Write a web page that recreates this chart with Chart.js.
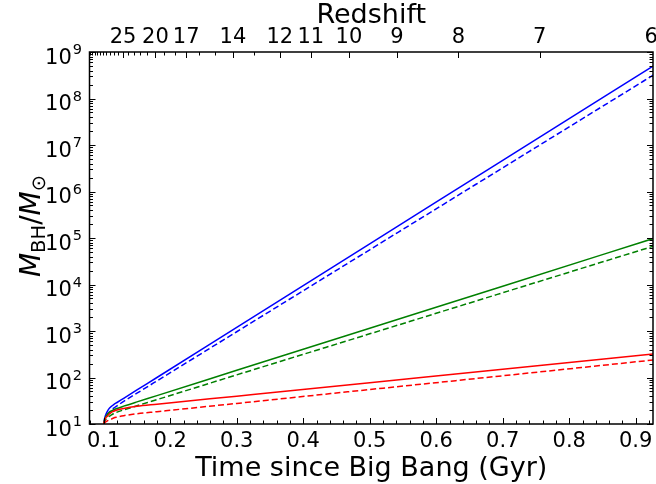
<!DOCTYPE html>
<html>
<head>
<meta charset="utf-8">
<script src="https://cdn.jsdelivr.net/npm/chart.js@4.4.1/dist/chart.umd.min.js"></script>
<style>
    html, body { margin: 0; padding: 0; background: #fff; }
    #wrap { width: 656px; height: 484px; }
</style>
</head>
<body>
<div id="wrap"><canvas id="bhChart" width="656" height="484"></canvas></div>
<script>
// time since Big Bang (Gyr), shared by every curve
const times = [0.100, 0.101, 0.1025, 0.105, 0.108, 0.111, 0.115, 0.120, 0.130, 0.150, 0.180, 0.30, 0.50, 0.70, 0.93];

// black hole mass (solar masses)
const blueSolid   = [10, 12.6, 15.1, 18.2, 21.4, 23.7, 26.2, 29.0, 35.7, 54.0, 100, 1200, 74800, 4.68e6, 5.42e8];
const blueDashed  = [10, 11.5, 13.2, 15.5, 17.8, 19.5, 21.9, 24.5, 30.7, 46.0, 84.5, 964, 55800, 3.23e6, 3.43e8];
const greenSolid  = [10, 12.0, 13.8, 15.8, 17.6, 18.8, 20.2, 21.6, 24.2, 29.9, 40.7, 143, 1150, 9200, 1.01e5];
const greenDashed = [10, 11.2, 12.3, 13.5, 14.6, 15.5, 16.8, 18.0, 20.1, 24.7, 33.4, 114, 869, 6650, 6.9e4];
const redSolid    = [10, 11.5, 13.2, 14.5, 16.2, 17.6, 18.8, 20.0, 21.6, 24.0, 26.6, 39.7, 77.4, 151, 325];
const redDashed   = [10, 10.5, 11.0, 11.6, 12.2, 12.6, 13.5, 14.1, 15.1, 16.6, 18.4, 27.7, 55.1, 109, 241];

// axis ticks
const xTicks = [0.1, 0.2, 0.3, 0.4, 0.5, 0.6, 0.7, 0.8, 0.9];
const yExponents = [1, 2, 3, 4, 5, 6, 7, 8, 9];
const redshiftLabels = [25, 20, 17, 14, 12, 11, 10, 9, 8, 7, 6];
const redshiftMinor = [7, 8, 9, 10, 11, 12, 13, 14, 15, 16, 17, 18, 19, 20, 21, 22, 23, 24, 25,
    26, 27, 28, 29, 30, 31, 32, 33, 34, 35];

const xMin = 0.0786;
const xMax = 0.926;
const FONT = 'DejaVu Sans';

// age of the universe at redshift z (Gyr), matched to the top axis of the figure
function zToTime(z) {
    return 17.1 * Math.pow(1 + z, -1.5);
}

function series(vals) {
    return vals.map(function (v, i) { return { x: times[i], y: v }; });
}

function line(vals, color, dashed) {
    return {
        data: series(vals),
        borderColor: color,
        borderWidth: 1.5,
        borderDash: dashed ? [6, 3] : [],
        pointRadius: 0,
        fill: false,
        cubicInterpolationMode: 'monotone'
    };
}

// frame, inward ticks, 10^n labels and the y title
const decorations = {
    id: 'decorations',
    afterDraw: function (chart) {
        const ctx = chart.ctx;
        const a = chart.chartArea;
        const xs = chart.scales.x;
        const ys = chart.scales.y;
        ctx.save();
        ctx.strokeStyle = '#000';
        ctx.lineWidth = 1;

        function vTick(v, len) {
            const px = Math.round(xs.getPixelForValue(v)) + 0.5;
            if (px < a.left || px > a.right) return;
            ctx.beginPath();
            ctx.moveTo(px, a.bottom);
            ctx.lineTo(px, a.bottom - len);
            ctx.stroke();
        }
        function topTick(v, len) {
            const px = Math.round(xs.getPixelForValue(v)) + 0.5;
            if (px < a.left || px > a.right) return;
            ctx.beginPath();
            ctx.moveTo(px, a.top);
            ctx.lineTo(px, a.top + len);
            ctx.stroke();
        }
        function hTick(v, len) {
            const py = Math.round(ys.getPixelForValue(v)) + 0.5;
            ctx.beginPath();
            ctx.moveTo(a.left, py);
            ctx.lineTo(a.left + len, py);
            ctx.moveTo(a.right, py);
            ctx.lineTo(a.right - len, py);
            ctx.stroke();
        }

        // bottom axis
        for (let i = 0; i <= 42; i++) {
            const v = 0.08 + i * 0.02;
            const major = xTicks.some(function (t) { return Math.abs(t - v) < 1e-6; });
            vTick(v, major ? 6 : 3.5);
        }
        // top (redshift) axis
        redshiftMinor.forEach(function (z) {
            const major = redshiftLabels.indexOf(z) >= 0;
            topTick(zToTime(z), major ? 6 : 3.5);
        });
        // y axis both sides
        yExponents.forEach(function (e) {
            hTick(Math.pow(10, e), 6);
            if (e < 9) {
                for (let m = 2; m <= 9; m++) hTick(m * Math.pow(10, e), 3.5);
            }
        });

        ctx.lineWidth = 1.5;
        ctx.strokeRect(a.left, a.top, a.right - a.left, a.bottom - a.top);

        // 10^n labels
        ctx.fillStyle = '#000';
        ctx.textBaseline = 'alphabetic';
        yExponents.forEach(function (e) {
            const py = ys.getPixelForValue(Math.pow(10, e));
            const rightEdge = 82;
            ctx.font = '14.5px "' + FONT + '"';
            const ew = ctx.measureText(String(e)).width;
            ctx.textAlign = 'right';
            ctx.fillText(String(e), rightEdge, py + 2);
            ctx.font = '21px "' + FONT + '"';
            ctx.fillText('10', rightEdge - ew - 1, py + 11.5);
        });

        // y title: M_BH / M_sun
        const parts = [
            { t: 'M', f: 'italic 28px "' + FONT + '"', dy: 0 },
            { t: 'BH', f: '19.5px "' + FONT + '"', dy: 5 },
            { t: '/', f: '28px "' + FONT + '"', dy: 0 },
            { t: 'M', f: 'italic 28px "' + FONT + '"', dy: 0 },
            { t: '\u2299', f: '19.5px "' + FONT + '"', dy: 5 }
        ];
        let total = 0;
        parts.forEach(function (p) {
            ctx.font = p.f;
            p.w = ctx.measureText(p.t).width;
            total += p.w;
        });
        ctx.translate(31, 226);
        ctx.rotate(-Math.PI / 2);
        ctx.textAlign = 'left';
        let cx = -total / 2;
        parts.forEach(function (p) {
            ctx.font = p.f;
            ctx.fillText(p.t, cx, 9 + p.dy);
            cx += p.w;
        });
        ctx.restore();
    }
};

new Chart(document.getElementById('bhChart').getContext('2d'), {
    type: 'line',
    data: {
        datasets: [
            line(redDashed, '#ff0000', true),
            line(redSolid, '#ff0000', false),
            line(greenDashed, '#008000', true),
            line(greenSolid, '#008000', false),
            line(blueDashed, '#0000ff', true),
            line(blueSolid, '#0000ff', false)
        ]
    },
    options: {
        responsive: false,
        animation: false,
        layout: { padding: { left: 0, right: 3, top: 0, bottom: 0 } },
        plugins: {
            legend: { display: false },
            tooltip: { enabled: false }
        },
        scales: {
            x: {
                type: 'linear',
                position: 'bottom',
                min: xMin,
                max: xMax,
                grid: { display: false, drawTicks: false },
                border: { display: false },
                afterBuildTicks: function (scale) {
                    scale.ticks = xTicks.map(function (v) { return { value: v }; });
                },
                afterFit: function (scale) {
                    scale.height = 60;
                    scale.paddingLeft = 0;
                    scale.paddingRight = 0;
                },
                ticks: {
                    autoSkip: false,
                    maxRotation: 0,
                    padding: 5,
                    color: '#000',
                    font: { family: FONT, size: 21 },
                    callback: function (value) { return value.toFixed(1); }
                },
                title: {
                    display: true,
                    text: 'Time since Big Bang (Gyr)',
                    color: '#000',
                    font: { family: FONT, size: 27 },
                    padding: { top: 0, bottom: -1 }
                }
            },
            x2: {
                type: 'linear',
                position: 'top',
                min: xMin,
                max: xMax,
                grid: { display: false, drawTicks: false },
                border: { display: false },
                afterBuildTicks: function (scale) {
                    scale.ticks = redshiftLabels.map(function (z) { return { value: zToTime(z) }; });
                },
                afterFit: function (scale) {
                    scale.height = 52;
                    scale.paddingLeft = 0;
                    scale.paddingRight = 0;
                },
                ticks: {
                    autoSkip: false,
                    maxRotation: 0,
                    padding: 2,
                    color: '#000',
                    font: { family: FONT, size: 21 },
                    callback: function (value, index) { return String(redshiftLabels[index]); }
                },
                title: {
                    display: true,
                    text: 'Redshift',
                    color: '#000',
                    font: { family: FONT, size: 27 },
                    padding: { top: 0, bottom: 0 }
                }
            },
            y: {
                type: 'logarithmic',
                position: 'left',
                min: 10,
                max: 1e9,
                grid: { display: false, drawTicks: false },
                border: { display: false },
                ticks: { display: false },
                afterFit: function (scale) {
                    scale.width = 89.5;
                }
            }
        }
    },
    plugins: [decorations]
});
</script>
</body>
</html>
